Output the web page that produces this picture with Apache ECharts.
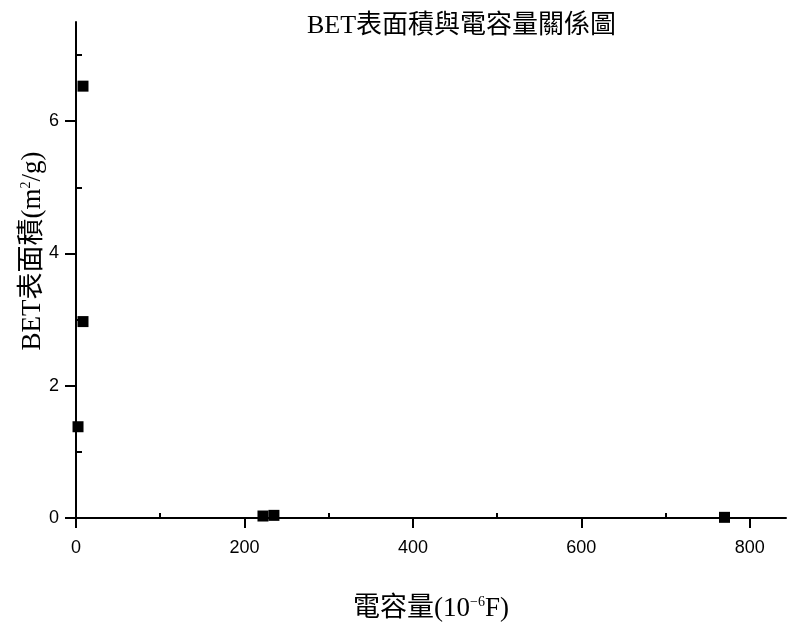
<!DOCTYPE html>
<html>
<head>
<meta charset="utf-8">
<script src="https://cdn.jsdelivr.net/npm/echarts@6/dist/echarts.min.js"></script>
<style>
  html, body { margin: 0; padding: 0; background: #fff; }
  #chart { width: 787px; height: 627px; }
</style>
</head>
<body>
<div id="chart"></div>
<script>
// capacitance (10^-6 F) vs BET surface area (m2/g)
const capacitance = [2.4, 8.3, 8.3, 222, 235, 770];
const betArea = [1.38, 2.97, 6.53, 0.03, 0.04, 0.01];
const xMajorTicks = [0, 200, 400, 600, 800];
const xMinorTicks = [100, 300, 500, 700];
const yMajorTicks = [0, 2, 4, 6];
const yMinorTicks = [1, 3, 5, 7];

const chart = echarts.init(document.getElementById('chart'));

const points = capacitance.map((c, i) => [c, betArea[i]]);
const serif = "'Liberation Serif', 'Noto Sans CJK TC', serif";
const sans = "'Liberation Sans', Arial, sans-serif";
const black = { color: '#000', width: 2 };

const xRange = { type: 'value', min: 0, max: 843, splitLine: { show: false } };
const yRange = { type: 'value', min: 0, max: 7.5, splitLine: { show: false } };

const option = {
    backgroundColor: '#ffffff',
    animation: false,
    title: {
        text: 'BET表面積與電容量關係圖',
        left: 302,
        top: 8,
        textStyle: {
            fontFamily: serif,
            fontWeight: 'normal',
            fontSize: 26,
            color: '#000'
        }
    },
    grid: {
        left: 76,
        right: 1,
        top: 22,
        bottom: 109,
        containLabel: false
    },
    xAxis: [
        Object.assign({}, xRange, {
            name: '{a|電容量(10}{s|−6}{a|F)}',
            nameLocation: 'middle',
            nameGap: 77,
            nameMoveOverlap: false,
            nameTextStyle: {
                rich: {
                    a: { fontFamily: serif, fontSize: 27, color: '#000', verticalAlign: 'bottom' },
                    s: { fontFamily: serif, fontSize: 14, color: '#000', verticalAlign: 'top', padding: [0, 0, 13, 0] }
                }
            },
            axisLine: { onZero: false, lineStyle: black },
            axisTick: { inside: false, length: 10, customValues: xMajorTicks, lineStyle: black },
            axisLabel: {
                color: '#000',
                fontFamily: sans,
                fontSize: 18,
                margin: 21,
                customValues: xMajorTicks
            }
        }),
        Object.assign({}, xRange, {
            axisLine: { show: false },
            axisTick: { inside: false, length: 5, customValues: xMinorTicks, lineStyle: black },
            axisLabel: { show: false }
        })
    ],
    yAxis: [
        Object.assign({}, yRange, {
            name: '{a|BET表面積(m}{s|2}{a|/g)}',
            nameLocation: 'middle',
            nameGap: 30,
            nameMoveOverlap: false,
            nameRotate: 90,
            nameTextStyle: {
                padding: [0, 0, 0, 38],
                rich: {
                    a: { fontFamily: serif, fontSize: 27, color: '#000', verticalAlign: 'bottom' },
                    s: { fontFamily: serif, fontSize: 14, color: '#000', verticalAlign: 'top', padding: [0, 0, 13, 0] }
                }
            },
            axisLine: { onZero: false, lineStyle: black },
            axisTick: { inside: false, length: 11, customValues: yMajorTicks, lineStyle: black },
            axisLabel: {
                color: '#000',
                fontFamily: sans,
                fontSize: 18,
                margin: 17,
                customValues: yMajorTicks
            }
        }),
        Object.assign({}, yRange, {
            axisLine: { show: false },
            axisTick: { inside: false, length: 6, customValues: yMinorTicks, lineStyle: black },
            axisLabel: { show: false }
        })
    ],
    series: [
        {
            type: 'scatter',
            data: points,
            symbol: 'rect',
            symbolSize: 11,
            itemStyle: { color: '#000', opacity: 1 }
        }
    ]
};

chart.setOption(option);
</script>
</body>
</html>
